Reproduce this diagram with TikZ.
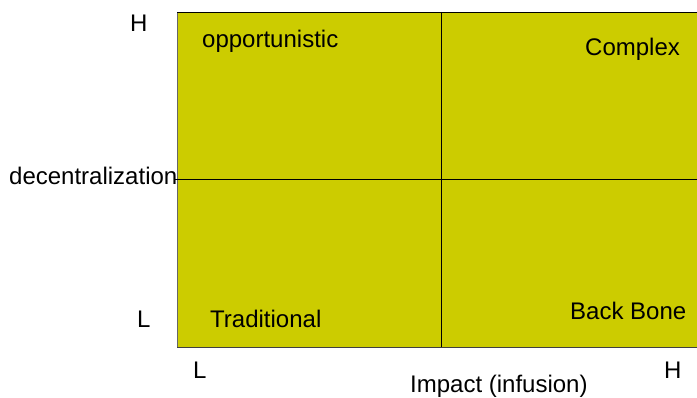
\documentclass[tikz,border=0pt]{standalone}
\usepackage{fontspec}
\setmainfont{Liberation Sans}
\usepackage{tikz}
\definecolor{quadfill}{HTML}{CCCC00}
\tikzstyle{lbl} = [anchor=base west, inner sep=0pt, font=\fontsize{24}{28}\selectfont]

\begin{document}
\begin{tikzpicture}[x=1pt,y=-1pt]
	\useasboundingbox (0,0) rectangle (697,398);
	\fill[quadfill] (177,12) rectangle (697,347); % matrix
	\draw[black!60] (177,12) -- (177,347); % left side
	\draw (697,12) -- (177,12);
	\draw[black!75] (177,347) -- (697,347);
	\draw (441,12) -- (441,347); % split
	\draw (175,179) -- (697,179);
	\node[lbl] (yHigh) at (130,32) {H};
	\node[lbl] (yLow) at (137,328) {L};
	\node[lbl] (yAxis) at (9,185) {decentralization};
	\node[lbl] (xLow) at (193,379) {L};
	\node[lbl] (xHigh) at (664,378) {H};
	\node[lbl] (xAxis) at (410,392) {Impact (infusion)};
	\node[lbl] (opportunistic) at (202,48) {opportunistic};
	\node[lbl] (complex) at (585,56) {Complex};
	\node[lbl] (traditional) at (210,328) {Traditional};
	\node[lbl] (backBone) at (570,320) {Back Bone};
\end{tikzpicture}
\end{document}
